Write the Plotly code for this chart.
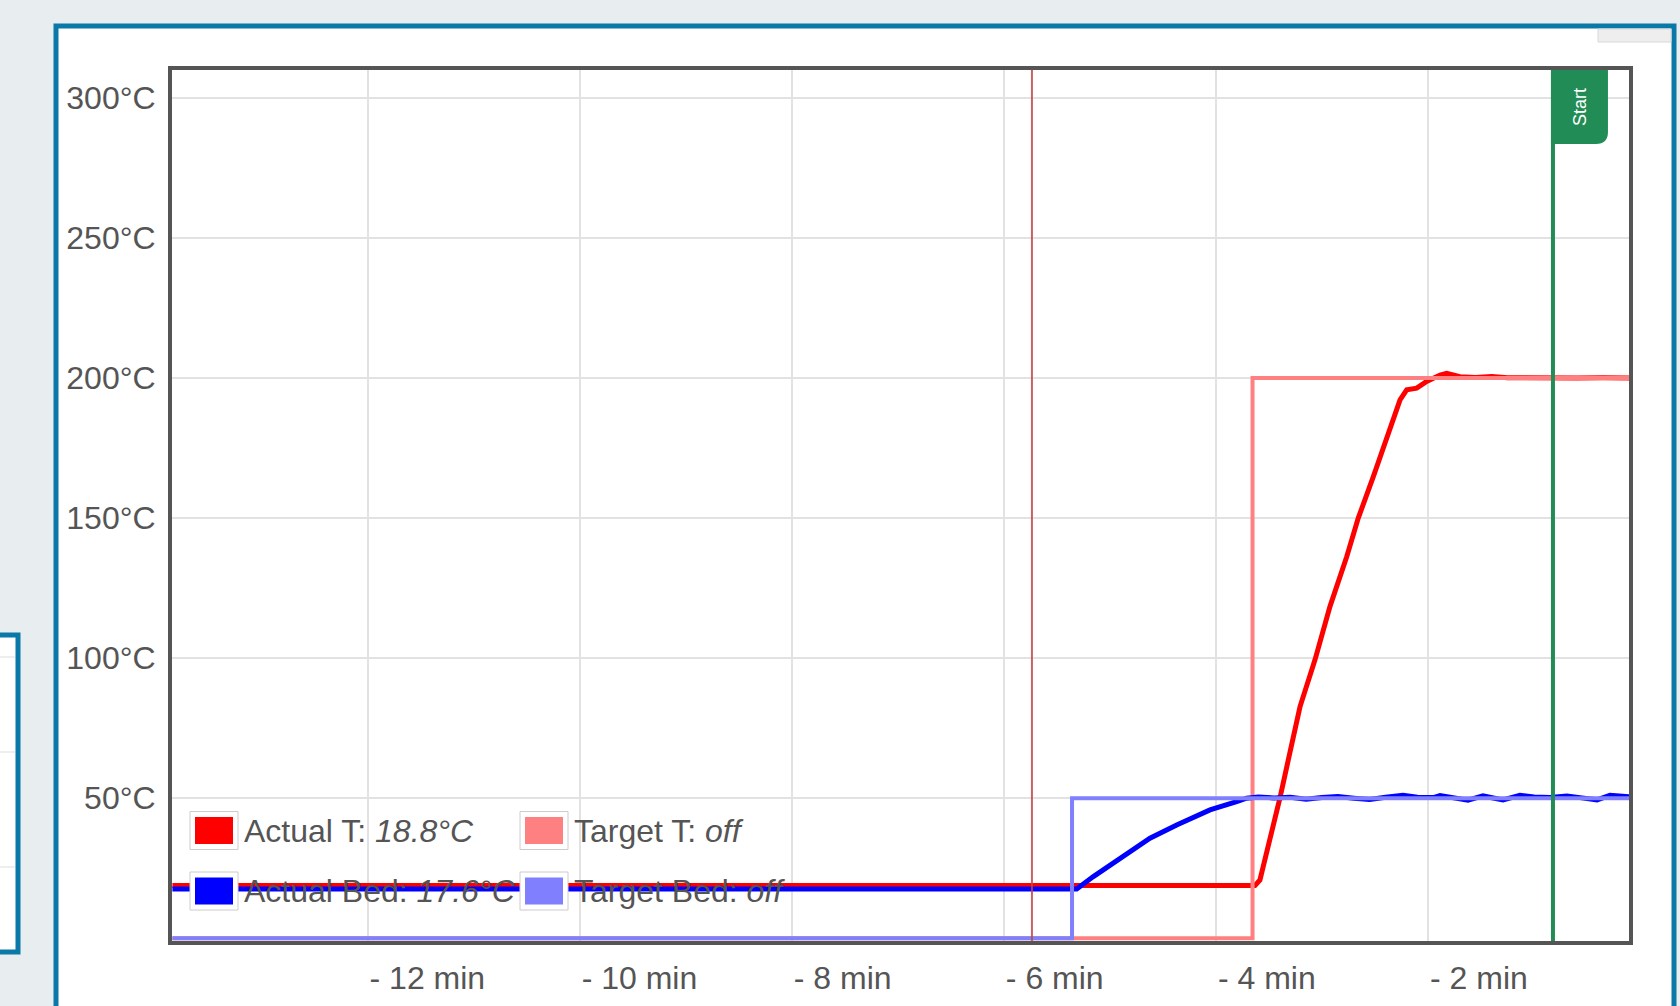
import plotly.graph_objects as go

# ---------------- data (minutes before now, °C) ----------------
actual_t_x = [-13.84, -3.632, -3.585, -3.553, -3.459, -3.397, -3.318, -3.207, -3.066, -2.925,
              -2.767, -2.658, -2.516, -2.390, -2.264, -2.201, -2.107, -2.013, -1.887, -1.824,
              -1.699, -1.55, -1.40, -1.25, -1.05, -0.85, -0.60, -0.35, -0.10]
actual_t_y = [18.8, 18.8, 20.8, 25.5, 39.8, 50.0, 63.6, 82.7, 99.4, 118.4,
              136.2, 150.0, 164.8, 177.9, 192.2, 195.8, 196.4, 198.8, 201.1, 201.7,
              200.5, 200.2, 200.6, 200.1, 200.0, 200.3, 200.0, 200.1, 200.0]

actual_bed_x = [-13.84, -5.313, -5.156, -4.999, -4.842, -4.622, -4.370, -4.056, -3.805, -3.711,
                -3.60, -3.45, -3.30, -3.15, -3.00, -2.85, -2.70, -2.55, -2.40, -2.236,
                -2.10, -1.95, -1.887, -1.75, -1.623, -1.482, -1.38, -1.293, -1.133, -1.00,
                -0.85, -0.69, -0.55, -0.407, -0.284, -0.10]
actual_bed_y = [17.6, 17.6, 22.0, 26.1, 30.3, 35.7, 40.4, 45.8, 48.75, 50.0,
                50.4, 50.1, 50.3, 49.6, 50.2, 50.6, 50.0, 49.5, 50.3, 51.0,
                50.3, 50.2, 50.9, 50.2, 49.3, 50.8, 50.1, 49.4, 51.0, 50.4,
                50.2, 50.8, 50.1, 49.4, 51.0, 50.5]

target_t_x = [-13.84, -3.655, -0.10]
target_t_y = [0, 200, 200]

target_bed_x = [-13.84, -5.357, -0.10]
target_bed_y = [0, 50, 50]

marking_x = [-5.735, -0.822]
marking_labels = ["", "Start"]

x_tick_vals = [-12, -10, -8, -6, -4, -2]
x_tick_text = ["- 12 min", "- 10 min", "- 8 min", "- 6 min", "- 4 min", "- 2 min"]
y_tick_vals = [50, 100, 150, 200, 250, 300]
y_tick_text = ["50°C", "100°C", "150°C", "200°C", "250°C", "300°C"]

legend_names = ["Actual T: ", "Target T: ", "Actual Bed: ", "Target Bed: "]
legend_values = ["18.8°C", "off", "17.6°C", "off"]

# ---------------- styling ----------------
C_ACT_T = "#ff0000"
C_TGT_T = "#ff8080"
C_ACT_B = "#0000ff"
C_TGT_B = "#8080ff"
FONT = "Liberation Sans, Arial, sans-serif"
TXT = "#555555"
FRAME_BLUE = "#0b79a8"

W, H = 1680, 1006
L, R, T, B = 172, 51, 70, 65
PW, PH = W - L - R, H - T - B


def px(x):
    return (x - L) / PW


def py(y):
    return (H - B - y) / PH


fig = go.Figure()
series = [
    (actual_t_x, actual_t_y, C_ACT_T, 5, "linear"),
    (target_t_x, target_t_y, C_TGT_T, 4, "hv"),
    (actual_bed_x, actual_bed_y, C_ACT_B, 5, "linear"),
    (target_bed_x, target_bed_y, C_TGT_B, 4, "hv"),
]
for xs, ys, col, w, shp in series:
    fig.add_trace(go.Scatter(x=xs, y=ys, mode="lines", showlegend=False,
                             line=dict(color=col, width=w, shape=shp),
                             hoverinfo="skip"))

shapes = []
# page panel (white with blue border)
shapes.append(dict(type="rect", xref="paper", yref="paper", layer="below",
                   x0=px(56), x1=px(1674), y0=py(1040), y1=py(26),
                   fillcolor="white", line=dict(color=FRAME_BLUE, width=5)))
# small side panel on the left
shapes.append(dict(type="rect", xref="paper", yref="paper", layer="below",
                   x0=px(-30), x1=px(18), y0=py(952), y1=py(635),
                   fillcolor="white", line=dict(color=FRAME_BLUE, width=5)))
for yy in [657, 752, 867]:
    shapes.append(dict(type="line", xref="paper", yref="paper", layer="below",
                       x0=px(0), x1=px(15), y0=py(yy), y1=py(yy),
                       line=dict(color="#dddddd", width=1)))
# grey tab top right
shapes.append(dict(type="rect", xref="paper", yref="paper", layer="below",
                   x0=px(1598), x1=px(1671), y0=py(42), y1=py(29),
                   fillcolor="#eeeeee", line=dict(color="#d8d8d8", width=1)))

# markings
mark_cols = ["rgba(190,70,70,0.85)", "#218c55"]
mark_w = [2, 4]
for mx, lab, col, w in zip(marking_x, marking_labels, mark_cols, mark_w):
    shapes.append(dict(type="line", xref="x", yref="paper", x0=mx, x1=mx, y0=0, y1=1,
                       line=dict(color=col, width=w)))
    if lab:
        shapes.append(dict(type="path", xref="x", yref="paper",
                           xsizemode="pixel", ysizemode="pixel",
                           xanchor=mx, yanchor=1,
                           path="M -2,0 L 55,0 L 55,-62 Q 55,-74 43,-74 L -2,-74 Z",
                           fillcolor=col, line=dict(width=0)))

annotations = []
for mx, lab in zip(marking_x, marking_labels):
    if lab:
        annotations.append(dict(x=mx, y=1, xref="x", yref="paper", text=lab,
                                showarrow=False, textangle=-90, xanchor="center",
                                yanchor="middle", xshift=27, yshift=-37,
                                font=dict(family=FONT, size=18, color="white")))

# legend (2 x 2) drawn manually
leg_cols_px = [195, 525]
leg_rows_px = [830.5, 891]
leg_colors = [C_ACT_T, C_TGT_T, C_ACT_B, C_TGT_B]
for i, (nm, val, col) in enumerate(zip(legend_names, legend_values, leg_colors)):
    cx = leg_cols_px[i % 2]
    cy = leg_rows_px[i // 2]
    shapes.append(dict(type="rect", xref="paper", yref="paper",
                       x0=px(cx - 5), x1=px(cx + 43), y0=py(cy + 19), y1=py(cy - 19),
                       fillcolor="white", line=dict(color="#cccccc", width=1)))
    shapes.append(dict(type="rect", xref="paper", yref="paper",
                       x0=px(cx), x1=px(cx + 38), y0=py(cy + 13.5), y1=py(cy - 13.5),
                       fillcolor=col, line=dict(width=0)))
    annotations.append(dict(x=px(cx + 47), y=py(cy), xref="paper", yref="paper",
                            text=f"{nm}<i>{val}</i>", showarrow=False,
                            xanchor="left", yanchor="middle",
                            font=dict(family=FONT, size=32, color=TXT)))

fig.update_layout(
    width=W, height=H,
    margin=dict(l=L, r=R, t=T, b=B, pad=0, autoexpand=False),
    paper_bgcolor="#e8edf0",
    plot_bgcolor="white",
    font=dict(family=FONT, size=32, color=TXT),
    shapes=shapes,
    annotations=annotations,
    showlegend=False,
    xaxis=dict(range=[-13.844, -0.105], tickvals=x_tick_vals, ticktext=x_tick_text,
               ticklabelposition="outside right", ticks="", ticklabelstandoff=6,
               automargin=False,
               showgrid=True, gridcolor="#e2e2e2", gridwidth=2, zeroline=False,
               showline=True, linecolor="#555555", linewidth=4, mirror=True,
               tickfont=dict(family=FONT, size=32, color=TXT)),
    yaxis=dict(range=[-1, 310], tickvals=y_tick_vals, ticktext=y_tick_text, ticks="",
               ticklabelstandoff=6, automargin=False,
               showgrid=True, gridcolor="#e2e2e2", gridwidth=2, zeroline=False,
               showline=True, linecolor="#555555", linewidth=4, mirror=True,
               tickfont=dict(family=FONT, size=32, color=TXT)),
)

fig.write_html("out.html", config={"displayModeBar": False},
               post_script="document.body.style.margin='0';document.body.style.overflow='hidden';")
